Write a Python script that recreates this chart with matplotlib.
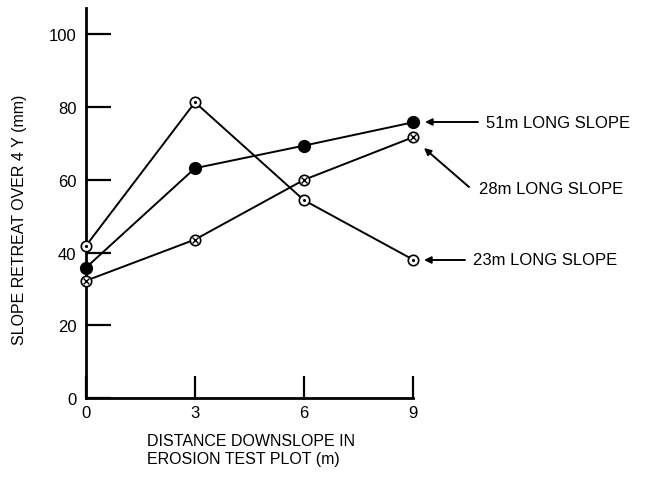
import matplotlib
matplotlib.use("Agg")
import matplotlib.pyplot as plt

plt.rcParams["font.family"] = ["Liberation Sans", "DejaVu Sans"]

# distance downslope (m)
distance = [0, 3, 6, 9]

# slope retreat over 4 y (mm)
slope_51m = [35.9, 63.2, 69.4, 75.8]
slope_28m = [32.3, 43.6, 60.0, 71.7]
slope_23m = [41.9, 81.3, 54.4, 38.1]

labels = ["51m LONG SLOPE", "28m LONG SLOPE", "23m LONG SLOPE"]
y_ticks = [0, 20, 40, 60, 80, 100]
x_ticks = [0, 3, 6, 9]

W, H = 647, 481
fig = plt.figure(figsize=(W / 100, H / 100), dpi=100)
ax = fig.add_axes([86 / W, 1 - 399.3 / H, (413 - 86) / W, (399.3 - 9) / H])

lw = 1.4
ms = 7.5
# 23m: open circle with a dot
ax.plot(distance, slope_23m, color="black", lw=lw, marker="o", ms=ms,
        mfc="white", mec="black", mew=1.2, clip_on=False, zorder=3)
ax.plot(distance, slope_23m, ls="none", marker=".", ms=2.5, color="black",
        clip_on=False, zorder=4)
# 28m: crossed circle
ax.plot(distance, slope_28m, color="black", lw=lw, marker="o", ms=ms,
        mfc="white", mec="black", mew=1.2, clip_on=False, zorder=3)
ax.plot(distance, slope_28m, ls="none", marker="x", ms=4, mew=1.0,
        color="black", clip_on=False, zorder=4)
# 51m: filled circle
ax.plot(distance, slope_51m, color="black", lw=lw, marker="o", ms=ms + 1,
        mfc="black", mec="black", clip_on=False, zorder=5)

ax.set_xlim(0, 9)
ax.set_ylim(0, 107.2)
ax.set_xticks(x_ticks)
ax.set_yticks(y_ticks)
ax.spines["top"].set_visible(False)
ax.spines["right"].set_visible(False)
for s in ["left", "bottom"]:
    ax.spines[s].set_linewidth(2)
ax.tick_params(axis="y", direction="in", length=18, width=1.6, pad=7,
               labelsize=12)
ax.tick_params(axis="x", direction="in", length=16, width=1.6, pad=5,
               labelsize=12)

# labels with arrows
text_pos = [(486, 124), (479, 190), (473, 261)]
arrow_start = [(478, 123), (469, 188), (465, 261)]
arrow_tip = [(425, 123), (424, 149), (424, 261)]
for lab, (tx, ty), (sx, sy), (ex, ey) in zip(labels, text_pos, arrow_start, arrow_tip):
    fig.text(tx / W, 1 - ty / H, lab, ha="left", va="center", fontsize=12)
    ax.annotate("", xy=(ex / W, 1 - ey / H), xycoords="figure fraction",
                xytext=(sx / W, 1 - sy / H), textcoords="figure fraction",
                arrowprops=dict(arrowstyle="-|>", color="black", lw=1.4,
                                mutation_scale=10, shrinkA=0, shrinkB=0))

fig.text(20 / W, 1 - 220 / H, "SLOPE RETREAT OVER 4 Y (mm)", rotation=90,
         ha="center", va="center", fontsize=11.5)
fig.text(147 / W, 1 - 451 / H, "DISTANCE DOWNSLOPE IN\nEROSION TEST PLOT (m)",
         ha="left", va="center", fontsize=11.5, linespacing=1.25)

fig.savefig("out.png", dpi=100)
